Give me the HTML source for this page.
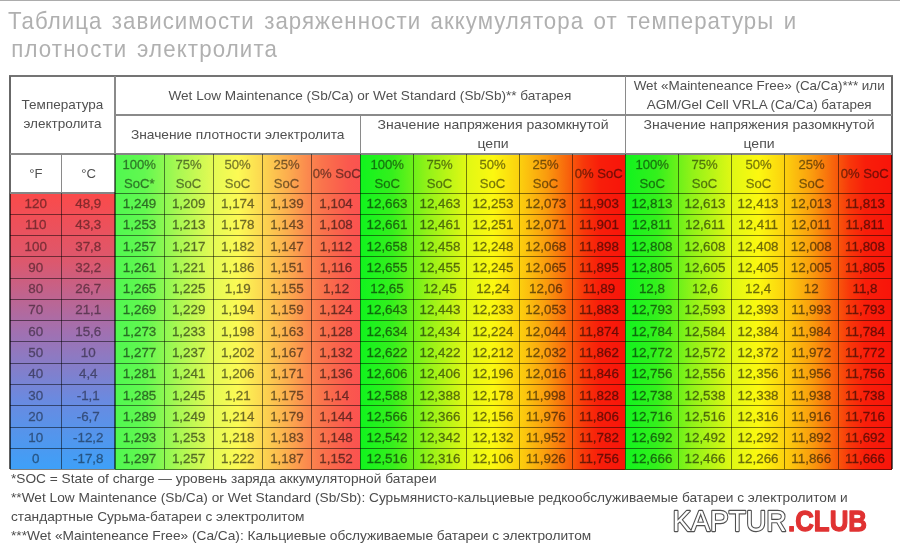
<!DOCTYPE html>
<html lang="ru"><head><meta charset="utf-8"><title>Таблица зависимости заряженности аккумулятора</title>
<style>
html,body{margin:0;padding:0;background:#fff;}
body{width:900px;height:551px;position:relative;overflow:hidden;font-family:"Liberation Sans",sans-serif;}
.abs{position:absolute;}
.topline{left:0;top:0;width:900px;height:1px;background:#acacac;}
.title{left:8.4px;top:6.8px;font-size:24.2px;line-height:27.7px;color:#b0b0b0;white-space:nowrap;letter-spacing:1.1px;word-spacing:2.5px;transform-origin:0 0;transform:scaleX(0.92);}
.bg{position:absolute;}
.ln{position:absolute;background:rgba(0,0,0,0.5);}
.c{position:absolute;text-align:center;white-space:nowrap;color:#333;font-size:13.4px;}
.c span{display:inline-block;transform:scaleX(1.0);transform-origin:50% 50%;}
.d{height:21.280px;line-height:22.680px;color:#000;}
.d span{opacity:0.56;-webkit-text-stroke:0.32px #000;}
.h{color:#505050;font-size:13.5px;line-height:19px;}
.h span{transform:scaleX(0.97);}
.hc{color:#000;}
.hc span{opacity:0.52;-webkit-text-stroke:0.3px #000;}
.t span{opacity:0.46;}
.fn{left:10.5px;font-size:13.3px;color:#4c4c4c;white-space:nowrap;transform-origin:0 0;transform:scaleX(1.03);line-height:19px;}
</style></head><body>

<div class="abs topline"></div>
<div class="abs" style="left:0;top:1px;width:900px;height:550px;filter:blur(0.45px);"><div class="abs" style="left:0;top:-1px;width:900px;height:551px;">
<div class="abs title">Таблица зависимости заряженности аккумулятора от температуры и<br><span style="margin-left:3.5px;letter-spacing:1.25px">плотности электролита</span></div>
<div class="bg" style="left:10.0px;top:193.0px;width:105.0px;height:276.2px;background:linear-gradient(to bottom,#fb4a4a 0%,#dc586e 25%,#a270b0 50%,#6a8ae0 75%,#3ea0f8 100%);"></div>
<div class="bg" style="left:115px;top:154px;width:246px;height:315.5px;background:linear-gradient(to right,#50f850 0%,#62f850 12%,#a6f852 25%,#e4fa54 40%,#fcfa54 50%,#fcd650 60%,#fcae4e 70%,#fb8a4e 78%,#fa744c 84%,#fa644c 90%,#fa584e 95%,#fb5250 100%);"></div>
<div class="bg" style="left:360px;top:154px;width:266px;height:315.5px;background:linear-gradient(to right,#10f41e 0%,#34f01c 12%,#90f218 25%,#e0f814 40%,#fcf810 50%,#fcd00e 60%,#fa9c0e 70%,#f8640c 78%,#f8380a 84%,#f81e0a 90%,#f8140a 100%);"></div>
<div class="bg" style="left:625px;top:154px;width:267px;height:315.5px;background:linear-gradient(to right,#10f41e 0%,#34f01c 12%,#90f218 25%,#e0f814 40%,#fcf810 50%,#fcd00e 60%,#fa9c0e 70%,#f8640c 78%,#f8380a 84%,#f81e0a 90%,#f8140a 100%);"></div>
<div class="ln" style="left:9.15px;top:75.20px;width:883.70px;height:1.80px;background:#747474;"></div>
<div class="ln" style="left:10.00px;top:468.55px;width:882.00px;height:1.30px;"></div>
<div class="ln" style="left:9.15px;top:76.10px;width:1.70px;height:116.90px;background:#686868;"></div>
<div class="ln" style="left:9.20px;top:193.00px;width:1.60px;height:276.20px;background:rgba(0,0,0,0.62);"></div>
<div class="ln" style="left:891.15px;top:76.10px;width:1.70px;height:77.90px;background:#686868;"></div>
<div class="ln" style="left:891.35px;top:154.00px;width:1.30px;height:315.20px;background:rgba(0,0,0,0.62);"></div>
<div class="ln" style="left:115.00px;top:114.45px;width:777.00px;height:1.10px;background:#8a8a8a;"></div>
<div class="ln" style="left:115.00px;top:153.45px;width:777.00px;height:1.10px;background:#858585;"></div>
<div class="ln" style="left:10.00px;top:192.45px;width:105.00px;height:1.10px;background:#858585;"></div>
<div class="ln" style="left:115.00px;top:192.50px;width:777.00px;height:1.00px;"></div>
<div class="ln" style="left:10.00px;top:213.78px;width:882.00px;height:1.00px;"></div>
<div class="ln" style="left:10.00px;top:235.06px;width:882.00px;height:1.00px;"></div>
<div class="ln" style="left:10.00px;top:256.34px;width:882.00px;height:1.00px;"></div>
<div class="ln" style="left:10.00px;top:277.62px;width:882.00px;height:1.00px;"></div>
<div class="ln" style="left:10.00px;top:298.90px;width:882.00px;height:1.00px;"></div>
<div class="ln" style="left:10.00px;top:320.18px;width:882.00px;height:1.00px;"></div>
<div class="ln" style="left:10.00px;top:341.46px;width:882.00px;height:1.00px;"></div>
<div class="ln" style="left:10.00px;top:362.74px;width:882.00px;height:1.00px;"></div>
<div class="ln" style="left:10.00px;top:384.02px;width:882.00px;height:1.00px;"></div>
<div class="ln" style="left:10.00px;top:405.30px;width:882.00px;height:1.00px;"></div>
<div class="ln" style="left:10.00px;top:426.58px;width:882.00px;height:1.00px;"></div>
<div class="ln" style="left:10.00px;top:447.86px;width:882.00px;height:1.00px;"></div>
<div class="ln" style="left:60.95px;top:154.00px;width:1.10px;height:39.00px;background:#8a8a8a;"></div>
<div class="ln" style="left:61.00px;top:193.00px;width:1.00px;height:276.20px;"></div>
<div class="ln" style="left:10.00px;top:153.45px;width:105.00px;height:1.10px;background:#8a8a8a;"></div>
<div class="ln" style="left:114.45px;top:76.10px;width:1.10px;height:77.90px;background:#8a8a8a;"></div>
<div class="ln" style="left:114.25px;top:154.00px;width:1.50px;height:315.20px;background:rgba(0,0,0,0.55);"></div>
<div class="ln" style="left:359.95px;top:115.00px;width:1.10px;height:39.00px;background:#8a8a8a;"></div>
<div class="ln" style="left:359.85px;top:154.00px;width:1.50px;height:315.20px;background:rgba(0,0,0,0.55);"></div>
<div class="ln" style="left:624.95px;top:76.10px;width:1.10px;height:77.90px;background:#8a8a8a;"></div>
<div class="ln" style="left:624.75px;top:154.00px;width:1.50px;height:315.20px;background:rgba(0,0,0,0.55);"></div>
<div class="ln" style="left:163.62px;top:154.00px;width:1.00px;height:315.20px;"></div>
<div class="ln" style="left:212.74px;top:154.00px;width:1.00px;height:315.20px;"></div>
<div class="ln" style="left:261.86px;top:154.00px;width:1.00px;height:315.20px;"></div>
<div class="ln" style="left:310.98px;top:154.00px;width:1.00px;height:315.20px;"></div>
<div class="ln" style="left:412.90px;top:154.00px;width:1.00px;height:315.20px;"></div>
<div class="ln" style="left:466.00px;top:154.00px;width:1.00px;height:315.20px;"></div>
<div class="ln" style="left:518.80px;top:154.00px;width:1.00px;height:315.20px;"></div>
<div class="ln" style="left:571.90px;top:154.00px;width:1.00px;height:315.20px;"></div>
<div class="ln" style="left:677.90px;top:154.00px;width:1.00px;height:315.20px;"></div>
<div class="ln" style="left:731.10px;top:154.00px;width:1.00px;height:315.20px;"></div>
<div class="ln" style="left:784.10px;top:154.00px;width:1.00px;height:315.20px;"></div>
<div class="ln" style="left:837.50px;top:154.00px;width:1.00px;height:315.20px;"></div>
<div class="c h" style="left:10.0px;top:95.0px;width:105.0px;line-height:19px;"><span style="transform:scaleX(1.000)">Температура<br>электролита</span></div>
<div class="c h" style="left:115.0px;top:86.0px;width:510.5px;"><span style="transform:scaleX(1.008)">Wet Low Maintenance (Sb/Ca) or Wet Standard (Sb/Sb)** батарея</span></div>
<div class="c h" style="left:625.5px;top:75.8px;width:266.5px;"><span style="transform:scaleX(0.995)">Wet «Mainteneance Free» (Ca/Ca)*** или<br>AGM/Gel Cell VRLA (Ca/Ca) батарея</span></div>
<div class="c h" style="left:115.0px;top:125.0px;width:245.5px;"><span style="transform:scaleX(1.020)">Значение плотности электролита</span></div>
<div class="c h" style="left:360.5px;top:115.0px;width:265.0px;"><span style="transform:scaleX(1.040)">Значение напряжения разомкнутой<br>цепи</span></div>
<div class="c h" style="left:625.5px;top:115.0px;width:266.5px;"><span style="transform:scaleX(1.040)">Значение напряжения разомкнутой<br>цепи</span></div>
<div class="c h" style="left:10.0px;top:164.0px;width:51.5px;"><span>°F</span></div>
<div class="c h" style="left:61.5px;top:164.0px;width:53.5px;"><span>°C</span></div>
<div class="c h hc" style="left:115.0px;top:155.0px;width:49.1px;"><span>100%<br>SoC*</span></div>
<div class="c h hc" style="left:164.1px;top:155.0px;width:49.1px;"><span>75%<br>SoC</span></div>
<div class="c h hc" style="left:213.2px;top:155.0px;width:49.1px;"><span>50%<br>SoC</span></div>
<div class="c h hc" style="left:262.4px;top:155.0px;width:49.1px;"><span>25%<br>SoC</span></div>
<div class="c h hc" style="left:311.5px;top:164.0px;width:49.1px;"><span>0% SoC</span></div>
<div class="c h hc" style="left:360.6px;top:155.0px;width:52.8px;"><span>100%<br>SoC</span></div>
<div class="c h hc" style="left:413.4px;top:155.0px;width:53.1px;"><span>75%<br>SoC</span></div>
<div class="c h hc" style="left:466.5px;top:155.0px;width:52.8px;"><span>50%<br>SoC</span></div>
<div class="c h hc" style="left:519.3px;top:155.0px;width:53.1px;"><span>25%<br>SoC</span></div>
<div class="c h hc" style="left:572.4px;top:164.0px;width:53.1px;"><span>0% SoC</span></div>
<div class="c h hc" style="left:625.5px;top:155.0px;width:52.9px;"><span>100%<br>SoC</span></div>
<div class="c h hc" style="left:678.4px;top:155.0px;width:53.2px;"><span>75%<br>SoC</span></div>
<div class="c h hc" style="left:731.6px;top:155.0px;width:53.0px;"><span>50%<br>SoC</span></div>
<div class="c h hc" style="left:784.6px;top:155.0px;width:53.4px;"><span>25%<br>SoC</span></div>
<div class="c h hc" style="left:838.0px;top:164.0px;width:54.0px;"><span>0% SoC</span></div>
<div class="c d t" style="left:10.0px;top:193.0px;width:51.5px;"><span>120</span></div>
<div class="c d t" style="left:61.5px;top:193.0px;width:53.5px;"><span>48,9</span></div>
<div class="c d" style="left:115.0px;top:193.0px;width:49.1px;"><span>1,249</span></div>
<div class="c d" style="left:164.1px;top:193.0px;width:49.1px;"><span>1,209</span></div>
<div class="c d" style="left:213.2px;top:193.0px;width:49.1px;"><span>1,174</span></div>
<div class="c d" style="left:262.4px;top:193.0px;width:49.1px;"><span>1,139</span></div>
<div class="c d" style="left:311.5px;top:193.0px;width:49.1px;"><span>1,104</span></div>
<div class="c d" style="left:360.6px;top:193.0px;width:52.8px;"><span>12,663</span></div>
<div class="c d" style="left:413.4px;top:193.0px;width:53.1px;"><span>12,463</span></div>
<div class="c d" style="left:466.5px;top:193.0px;width:52.8px;"><span>12,253</span></div>
<div class="c d" style="left:519.3px;top:193.0px;width:53.1px;"><span>12,073</span></div>
<div class="c d" style="left:572.4px;top:193.0px;width:53.1px;"><span>11,903</span></div>
<div class="c d" style="left:625.5px;top:193.0px;width:52.9px;"><span>12,813</span></div>
<div class="c d" style="left:678.4px;top:193.0px;width:53.2px;"><span>12,613</span></div>
<div class="c d" style="left:731.6px;top:193.0px;width:53.0px;"><span>12,413</span></div>
<div class="c d" style="left:784.6px;top:193.0px;width:53.4px;"><span>12,013</span></div>
<div class="c d" style="left:838.0px;top:193.0px;width:54.0px;"><span>11,813</span></div>
<div class="c d t" style="left:10.0px;top:214.3px;width:51.5px;"><span>110</span></div>
<div class="c d t" style="left:61.5px;top:214.3px;width:53.5px;"><span>43,3</span></div>
<div class="c d" style="left:115.0px;top:214.3px;width:49.1px;"><span>1,253</span></div>
<div class="c d" style="left:164.1px;top:214.3px;width:49.1px;"><span>1,213</span></div>
<div class="c d" style="left:213.2px;top:214.3px;width:49.1px;"><span>1,178</span></div>
<div class="c d" style="left:262.4px;top:214.3px;width:49.1px;"><span>1,143</span></div>
<div class="c d" style="left:311.5px;top:214.3px;width:49.1px;"><span>1,108</span></div>
<div class="c d" style="left:360.6px;top:214.3px;width:52.8px;"><span>12,661</span></div>
<div class="c d" style="left:413.4px;top:214.3px;width:53.1px;"><span>12,461</span></div>
<div class="c d" style="left:466.5px;top:214.3px;width:52.8px;"><span>12,251</span></div>
<div class="c d" style="left:519.3px;top:214.3px;width:53.1px;"><span>12,071</span></div>
<div class="c d" style="left:572.4px;top:214.3px;width:53.1px;"><span>11,901</span></div>
<div class="c d" style="left:625.5px;top:214.3px;width:52.9px;"><span>12,811</span></div>
<div class="c d" style="left:678.4px;top:214.3px;width:53.2px;"><span>12,611</span></div>
<div class="c d" style="left:731.6px;top:214.3px;width:53.0px;"><span>12,411</span></div>
<div class="c d" style="left:784.6px;top:214.3px;width:53.4px;"><span>12,011</span></div>
<div class="c d" style="left:838.0px;top:214.3px;width:54.0px;"><span>11,811</span></div>
<div class="c d t" style="left:10.0px;top:235.6px;width:51.5px;"><span>100</span></div>
<div class="c d t" style="left:61.5px;top:235.6px;width:53.5px;"><span>37,8</span></div>
<div class="c d" style="left:115.0px;top:235.6px;width:49.1px;"><span>1,257</span></div>
<div class="c d" style="left:164.1px;top:235.6px;width:49.1px;"><span>1,217</span></div>
<div class="c d" style="left:213.2px;top:235.6px;width:49.1px;"><span>1,182</span></div>
<div class="c d" style="left:262.4px;top:235.6px;width:49.1px;"><span>1,147</span></div>
<div class="c d" style="left:311.5px;top:235.6px;width:49.1px;"><span>1,112</span></div>
<div class="c d" style="left:360.6px;top:235.6px;width:52.8px;"><span>12,658</span></div>
<div class="c d" style="left:413.4px;top:235.6px;width:53.1px;"><span>12,458</span></div>
<div class="c d" style="left:466.5px;top:235.6px;width:52.8px;"><span>12,248</span></div>
<div class="c d" style="left:519.3px;top:235.6px;width:53.1px;"><span>12,068</span></div>
<div class="c d" style="left:572.4px;top:235.6px;width:53.1px;"><span>11,898</span></div>
<div class="c d" style="left:625.5px;top:235.6px;width:52.9px;"><span>12,808</span></div>
<div class="c d" style="left:678.4px;top:235.6px;width:53.2px;"><span>12,608</span></div>
<div class="c d" style="left:731.6px;top:235.6px;width:53.0px;"><span>12,408</span></div>
<div class="c d" style="left:784.6px;top:235.6px;width:53.4px;"><span>12,008</span></div>
<div class="c d" style="left:838.0px;top:235.6px;width:54.0px;"><span>11,808</span></div>
<div class="c d t" style="left:10.0px;top:256.8px;width:51.5px;"><span>90</span></div>
<div class="c d t" style="left:61.5px;top:256.8px;width:53.5px;"><span>32,2</span></div>
<div class="c d" style="left:115.0px;top:256.8px;width:49.1px;"><span>1,261</span></div>
<div class="c d" style="left:164.1px;top:256.8px;width:49.1px;"><span>1,221</span></div>
<div class="c d" style="left:213.2px;top:256.8px;width:49.1px;"><span>1,186</span></div>
<div class="c d" style="left:262.4px;top:256.8px;width:49.1px;"><span>1,151</span></div>
<div class="c d" style="left:311.5px;top:256.8px;width:49.1px;"><span>1,116</span></div>
<div class="c d" style="left:360.6px;top:256.8px;width:52.8px;"><span>12,655</span></div>
<div class="c d" style="left:413.4px;top:256.8px;width:53.1px;"><span>12,455</span></div>
<div class="c d" style="left:466.5px;top:256.8px;width:52.8px;"><span>12,245</span></div>
<div class="c d" style="left:519.3px;top:256.8px;width:53.1px;"><span>12,065</span></div>
<div class="c d" style="left:572.4px;top:256.8px;width:53.1px;"><span>11,895</span></div>
<div class="c d" style="left:625.5px;top:256.8px;width:52.9px;"><span>12,805</span></div>
<div class="c d" style="left:678.4px;top:256.8px;width:53.2px;"><span>12,605</span></div>
<div class="c d" style="left:731.6px;top:256.8px;width:53.0px;"><span>12,405</span></div>
<div class="c d" style="left:784.6px;top:256.8px;width:53.4px;"><span>12,005</span></div>
<div class="c d" style="left:838.0px;top:256.8px;width:54.0px;"><span>11,805</span></div>
<div class="c d t" style="left:10.0px;top:278.1px;width:51.5px;"><span>80</span></div>
<div class="c d t" style="left:61.5px;top:278.1px;width:53.5px;"><span>26,7</span></div>
<div class="c d" style="left:115.0px;top:278.1px;width:49.1px;"><span>1,265</span></div>
<div class="c d" style="left:164.1px;top:278.1px;width:49.1px;"><span>1,225</span></div>
<div class="c d" style="left:213.2px;top:278.1px;width:49.1px;"><span>1,19</span></div>
<div class="c d" style="left:262.4px;top:278.1px;width:49.1px;"><span>1,155</span></div>
<div class="c d" style="left:311.5px;top:278.1px;width:49.1px;"><span>1,12</span></div>
<div class="c d" style="left:360.6px;top:278.1px;width:52.8px;"><span>12,65</span></div>
<div class="c d" style="left:413.4px;top:278.1px;width:53.1px;"><span>12,45</span></div>
<div class="c d" style="left:466.5px;top:278.1px;width:52.8px;"><span>12,24</span></div>
<div class="c d" style="left:519.3px;top:278.1px;width:53.1px;"><span>12,06</span></div>
<div class="c d" style="left:572.4px;top:278.1px;width:53.1px;"><span>11,89</span></div>
<div class="c d" style="left:625.5px;top:278.1px;width:52.9px;"><span>12,8</span></div>
<div class="c d" style="left:678.4px;top:278.1px;width:53.2px;"><span>12,6</span></div>
<div class="c d" style="left:731.6px;top:278.1px;width:53.0px;"><span>12,4</span></div>
<div class="c d" style="left:784.6px;top:278.1px;width:53.4px;"><span>12</span></div>
<div class="c d" style="left:838.0px;top:278.1px;width:54.0px;"><span>11,8</span></div>
<div class="c d t" style="left:10.0px;top:299.4px;width:51.5px;"><span>70</span></div>
<div class="c d t" style="left:61.5px;top:299.4px;width:53.5px;"><span>21,1</span></div>
<div class="c d" style="left:115.0px;top:299.4px;width:49.1px;"><span>1,269</span></div>
<div class="c d" style="left:164.1px;top:299.4px;width:49.1px;"><span>1,229</span></div>
<div class="c d" style="left:213.2px;top:299.4px;width:49.1px;"><span>1,194</span></div>
<div class="c d" style="left:262.4px;top:299.4px;width:49.1px;"><span>1,159</span></div>
<div class="c d" style="left:311.5px;top:299.4px;width:49.1px;"><span>1,124</span></div>
<div class="c d" style="left:360.6px;top:299.4px;width:52.8px;"><span>12,643</span></div>
<div class="c d" style="left:413.4px;top:299.4px;width:53.1px;"><span>12,443</span></div>
<div class="c d" style="left:466.5px;top:299.4px;width:52.8px;"><span>12,233</span></div>
<div class="c d" style="left:519.3px;top:299.4px;width:53.1px;"><span>12,053</span></div>
<div class="c d" style="left:572.4px;top:299.4px;width:53.1px;"><span>11,883</span></div>
<div class="c d" style="left:625.5px;top:299.4px;width:52.9px;"><span>12,793</span></div>
<div class="c d" style="left:678.4px;top:299.4px;width:53.2px;"><span>12,593</span></div>
<div class="c d" style="left:731.6px;top:299.4px;width:53.0px;"><span>12,393</span></div>
<div class="c d" style="left:784.6px;top:299.4px;width:53.4px;"><span>11,993</span></div>
<div class="c d" style="left:838.0px;top:299.4px;width:54.0px;"><span>11,793</span></div>
<div class="c d t" style="left:10.0px;top:320.7px;width:51.5px;"><span>60</span></div>
<div class="c d t" style="left:61.5px;top:320.7px;width:53.5px;"><span>15,6</span></div>
<div class="c d" style="left:115.0px;top:320.7px;width:49.1px;"><span>1,273</span></div>
<div class="c d" style="left:164.1px;top:320.7px;width:49.1px;"><span>1,233</span></div>
<div class="c d" style="left:213.2px;top:320.7px;width:49.1px;"><span>1,198</span></div>
<div class="c d" style="left:262.4px;top:320.7px;width:49.1px;"><span>1,163</span></div>
<div class="c d" style="left:311.5px;top:320.7px;width:49.1px;"><span>1,128</span></div>
<div class="c d" style="left:360.6px;top:320.7px;width:52.8px;"><span>12,634</span></div>
<div class="c d" style="left:413.4px;top:320.7px;width:53.1px;"><span>12,434</span></div>
<div class="c d" style="left:466.5px;top:320.7px;width:52.8px;"><span>12,224</span></div>
<div class="c d" style="left:519.3px;top:320.7px;width:53.1px;"><span>12,044</span></div>
<div class="c d" style="left:572.4px;top:320.7px;width:53.1px;"><span>11,874</span></div>
<div class="c d" style="left:625.5px;top:320.7px;width:52.9px;"><span>12,784</span></div>
<div class="c d" style="left:678.4px;top:320.7px;width:53.2px;"><span>12,584</span></div>
<div class="c d" style="left:731.6px;top:320.7px;width:53.0px;"><span>12,384</span></div>
<div class="c d" style="left:784.6px;top:320.7px;width:53.4px;"><span>11,984</span></div>
<div class="c d" style="left:838.0px;top:320.7px;width:54.0px;"><span>11,784</span></div>
<div class="c d t" style="left:10.0px;top:342.0px;width:51.5px;"><span>50</span></div>
<div class="c d t" style="left:61.5px;top:342.0px;width:53.5px;"><span>10</span></div>
<div class="c d" style="left:115.0px;top:342.0px;width:49.1px;"><span>1,277</span></div>
<div class="c d" style="left:164.1px;top:342.0px;width:49.1px;"><span>1,237</span></div>
<div class="c d" style="left:213.2px;top:342.0px;width:49.1px;"><span>1,202</span></div>
<div class="c d" style="left:262.4px;top:342.0px;width:49.1px;"><span>1,167</span></div>
<div class="c d" style="left:311.5px;top:342.0px;width:49.1px;"><span>1,132</span></div>
<div class="c d" style="left:360.6px;top:342.0px;width:52.8px;"><span>12,622</span></div>
<div class="c d" style="left:413.4px;top:342.0px;width:53.1px;"><span>12,422</span></div>
<div class="c d" style="left:466.5px;top:342.0px;width:52.8px;"><span>12,212</span></div>
<div class="c d" style="left:519.3px;top:342.0px;width:53.1px;"><span>12,032</span></div>
<div class="c d" style="left:572.4px;top:342.0px;width:53.1px;"><span>11,862</span></div>
<div class="c d" style="left:625.5px;top:342.0px;width:52.9px;"><span>12,772</span></div>
<div class="c d" style="left:678.4px;top:342.0px;width:53.2px;"><span>12,572</span></div>
<div class="c d" style="left:731.6px;top:342.0px;width:53.0px;"><span>12,372</span></div>
<div class="c d" style="left:784.6px;top:342.0px;width:53.4px;"><span>11,972</span></div>
<div class="c d" style="left:838.0px;top:342.0px;width:54.0px;"><span>11,772</span></div>
<div class="c d t" style="left:10.0px;top:363.2px;width:51.5px;"><span>40</span></div>
<div class="c d t" style="left:61.5px;top:363.2px;width:53.5px;"><span>4,4</span></div>
<div class="c d" style="left:115.0px;top:363.2px;width:49.1px;"><span>1,281</span></div>
<div class="c d" style="left:164.1px;top:363.2px;width:49.1px;"><span>1,241</span></div>
<div class="c d" style="left:213.2px;top:363.2px;width:49.1px;"><span>1,206</span></div>
<div class="c d" style="left:262.4px;top:363.2px;width:49.1px;"><span>1,171</span></div>
<div class="c d" style="left:311.5px;top:363.2px;width:49.1px;"><span>1,136</span></div>
<div class="c d" style="left:360.6px;top:363.2px;width:52.8px;"><span>12,606</span></div>
<div class="c d" style="left:413.4px;top:363.2px;width:53.1px;"><span>12,406</span></div>
<div class="c d" style="left:466.5px;top:363.2px;width:52.8px;"><span>12,196</span></div>
<div class="c d" style="left:519.3px;top:363.2px;width:53.1px;"><span>12,016</span></div>
<div class="c d" style="left:572.4px;top:363.2px;width:53.1px;"><span>11,846</span></div>
<div class="c d" style="left:625.5px;top:363.2px;width:52.9px;"><span>12,756</span></div>
<div class="c d" style="left:678.4px;top:363.2px;width:53.2px;"><span>12,556</span></div>
<div class="c d" style="left:731.6px;top:363.2px;width:53.0px;"><span>12,356</span></div>
<div class="c d" style="left:784.6px;top:363.2px;width:53.4px;"><span>11,956</span></div>
<div class="c d" style="left:838.0px;top:363.2px;width:54.0px;"><span>11,756</span></div>
<div class="c d t" style="left:10.0px;top:384.5px;width:51.5px;"><span>30</span></div>
<div class="c d t" style="left:61.5px;top:384.5px;width:53.5px;"><span>-1,1</span></div>
<div class="c d" style="left:115.0px;top:384.5px;width:49.1px;"><span>1,285</span></div>
<div class="c d" style="left:164.1px;top:384.5px;width:49.1px;"><span>1,245</span></div>
<div class="c d" style="left:213.2px;top:384.5px;width:49.1px;"><span>1,21</span></div>
<div class="c d" style="left:262.4px;top:384.5px;width:49.1px;"><span>1,175</span></div>
<div class="c d" style="left:311.5px;top:384.5px;width:49.1px;"><span>1,14</span></div>
<div class="c d" style="left:360.6px;top:384.5px;width:52.8px;"><span>12,588</span></div>
<div class="c d" style="left:413.4px;top:384.5px;width:53.1px;"><span>12,388</span></div>
<div class="c d" style="left:466.5px;top:384.5px;width:52.8px;"><span>12,178</span></div>
<div class="c d" style="left:519.3px;top:384.5px;width:53.1px;"><span>11,998</span></div>
<div class="c d" style="left:572.4px;top:384.5px;width:53.1px;"><span>11,828</span></div>
<div class="c d" style="left:625.5px;top:384.5px;width:52.9px;"><span>12,738</span></div>
<div class="c d" style="left:678.4px;top:384.5px;width:53.2px;"><span>12,538</span></div>
<div class="c d" style="left:731.6px;top:384.5px;width:53.0px;"><span>12,338</span></div>
<div class="c d" style="left:784.6px;top:384.5px;width:53.4px;"><span>11,938</span></div>
<div class="c d" style="left:838.0px;top:384.5px;width:54.0px;"><span>11,738</span></div>
<div class="c d t" style="left:10.0px;top:405.8px;width:51.5px;"><span>20</span></div>
<div class="c d t" style="left:61.5px;top:405.8px;width:53.5px;"><span>-6,7</span></div>
<div class="c d" style="left:115.0px;top:405.8px;width:49.1px;"><span>1,289</span></div>
<div class="c d" style="left:164.1px;top:405.8px;width:49.1px;"><span>1,249</span></div>
<div class="c d" style="left:213.2px;top:405.8px;width:49.1px;"><span>1,214</span></div>
<div class="c d" style="left:262.4px;top:405.8px;width:49.1px;"><span>1,179</span></div>
<div class="c d" style="left:311.5px;top:405.8px;width:49.1px;"><span>1,144</span></div>
<div class="c d" style="left:360.6px;top:405.8px;width:52.8px;"><span>12,566</span></div>
<div class="c d" style="left:413.4px;top:405.8px;width:53.1px;"><span>12,366</span></div>
<div class="c d" style="left:466.5px;top:405.8px;width:52.8px;"><span>12,156</span></div>
<div class="c d" style="left:519.3px;top:405.8px;width:53.1px;"><span>11,976</span></div>
<div class="c d" style="left:572.4px;top:405.8px;width:53.1px;"><span>11,806</span></div>
<div class="c d" style="left:625.5px;top:405.8px;width:52.9px;"><span>12,716</span></div>
<div class="c d" style="left:678.4px;top:405.8px;width:53.2px;"><span>12,516</span></div>
<div class="c d" style="left:731.6px;top:405.8px;width:53.0px;"><span>12,316</span></div>
<div class="c d" style="left:784.6px;top:405.8px;width:53.4px;"><span>11,916</span></div>
<div class="c d" style="left:838.0px;top:405.8px;width:54.0px;"><span>11,716</span></div>
<div class="c d t" style="left:10.0px;top:427.1px;width:51.5px;"><span>10</span></div>
<div class="c d t" style="left:61.5px;top:427.1px;width:53.5px;"><span>-12,2</span></div>
<div class="c d" style="left:115.0px;top:427.1px;width:49.1px;"><span>1,293</span></div>
<div class="c d" style="left:164.1px;top:427.1px;width:49.1px;"><span>1,253</span></div>
<div class="c d" style="left:213.2px;top:427.1px;width:49.1px;"><span>1,218</span></div>
<div class="c d" style="left:262.4px;top:427.1px;width:49.1px;"><span>1,183</span></div>
<div class="c d" style="left:311.5px;top:427.1px;width:49.1px;"><span>1,148</span></div>
<div class="c d" style="left:360.6px;top:427.1px;width:52.8px;"><span>12,542</span></div>
<div class="c d" style="left:413.4px;top:427.1px;width:53.1px;"><span>12,342</span></div>
<div class="c d" style="left:466.5px;top:427.1px;width:52.8px;"><span>12,132</span></div>
<div class="c d" style="left:519.3px;top:427.1px;width:53.1px;"><span>11,952</span></div>
<div class="c d" style="left:572.4px;top:427.1px;width:53.1px;"><span>11,782</span></div>
<div class="c d" style="left:625.5px;top:427.1px;width:52.9px;"><span>12,692</span></div>
<div class="c d" style="left:678.4px;top:427.1px;width:53.2px;"><span>12,492</span></div>
<div class="c d" style="left:731.6px;top:427.1px;width:53.0px;"><span>12,292</span></div>
<div class="c d" style="left:784.6px;top:427.1px;width:53.4px;"><span>11,892</span></div>
<div class="c d" style="left:838.0px;top:427.1px;width:54.0px;"><span>11,692</span></div>
<div class="c d t" style="left:10.0px;top:448.4px;width:51.5px;"><span>0</span></div>
<div class="c d t" style="left:61.5px;top:448.4px;width:53.5px;"><span>-17,8</span></div>
<div class="c d" style="left:115.0px;top:448.4px;width:49.1px;"><span>1,297</span></div>
<div class="c d" style="left:164.1px;top:448.4px;width:49.1px;"><span>1,257</span></div>
<div class="c d" style="left:213.2px;top:448.4px;width:49.1px;"><span>1,222</span></div>
<div class="c d" style="left:262.4px;top:448.4px;width:49.1px;"><span>1,187</span></div>
<div class="c d" style="left:311.5px;top:448.4px;width:49.1px;"><span>1,152</span></div>
<div class="c d" style="left:360.6px;top:448.4px;width:52.8px;"><span>12,516</span></div>
<div class="c d" style="left:413.4px;top:448.4px;width:53.1px;"><span>12,316</span></div>
<div class="c d" style="left:466.5px;top:448.4px;width:52.8px;"><span>12,106</span></div>
<div class="c d" style="left:519.3px;top:448.4px;width:53.1px;"><span>11,926</span></div>
<div class="c d" style="left:572.4px;top:448.4px;width:53.1px;"><span>11,756</span></div>
<div class="c d" style="left:625.5px;top:448.4px;width:52.9px;"><span>12,666</span></div>
<div class="c d" style="left:678.4px;top:448.4px;width:53.2px;"><span>12,466</span></div>
<div class="c d" style="left:731.6px;top:448.4px;width:53.0px;"><span>12,266</span></div>
<div class="c d" style="left:784.6px;top:448.4px;width:53.4px;"><span>11,866</span></div>
<div class="c d" style="left:838.0px;top:448.4px;width:54.0px;"><span>11,666</span></div>
<div class="abs fn" style="top:469.3px;">*SOC = State of charge — уровень заряда аккумуляторной батареи</div>
<div class="abs fn" style="top:488.2px;">**Wet Low Maintenance (Sb/Ca) or Wet Standard (Sb/Sb): Сурьмянисто-кальциевые редкообслуживаемые батареи с электролитом и</div>
<div class="abs fn" style="top:507.2px;">стандартные Сурьма-батареи с электролитом</div>
<div class="abs fn" style="top:526.1px;">***Wet «Mainteneance Free» (Ca/Ca): Кальциевые обслуживаемые батареи с электролитом</div>
<svg class="abs" style="left:660px;top:495px;" width="230" height="50" viewBox="0 0 230 50"><g font-family="Liberation Sans, sans-serif" font-size="30"><text x="12.6" y="35.6" textLength="114" lengthAdjust="spacingAndGlyphs" fill="#fff" stroke="#fff" stroke-width="5" stroke-linejoin="round" opacity="0.9">KAPTUR</text><text x="128" y="35.6" textLength="79" lengthAdjust="spacingAndGlyphs" font-weight="bold" fill="#fff" stroke="#fff" stroke-width="5" stroke-linejoin="round" opacity="0.9">.CLUB</text><text x="12.6" y="35.6" textLength="114" lengthAdjust="spacingAndGlyphs" fill="#fff" stroke="#505050" stroke-width="2.3" stroke-linejoin="round" paint-order="stroke">KAPTUR</text><text x="128" y="35.6" textLength="79" lengthAdjust="spacingAndGlyphs" font-weight="bold" fill="#e03232" stroke="#e03232" stroke-width="1.3" stroke-linejoin="round">.CLUB</text></g></svg>
</div></div>
</body></html>
